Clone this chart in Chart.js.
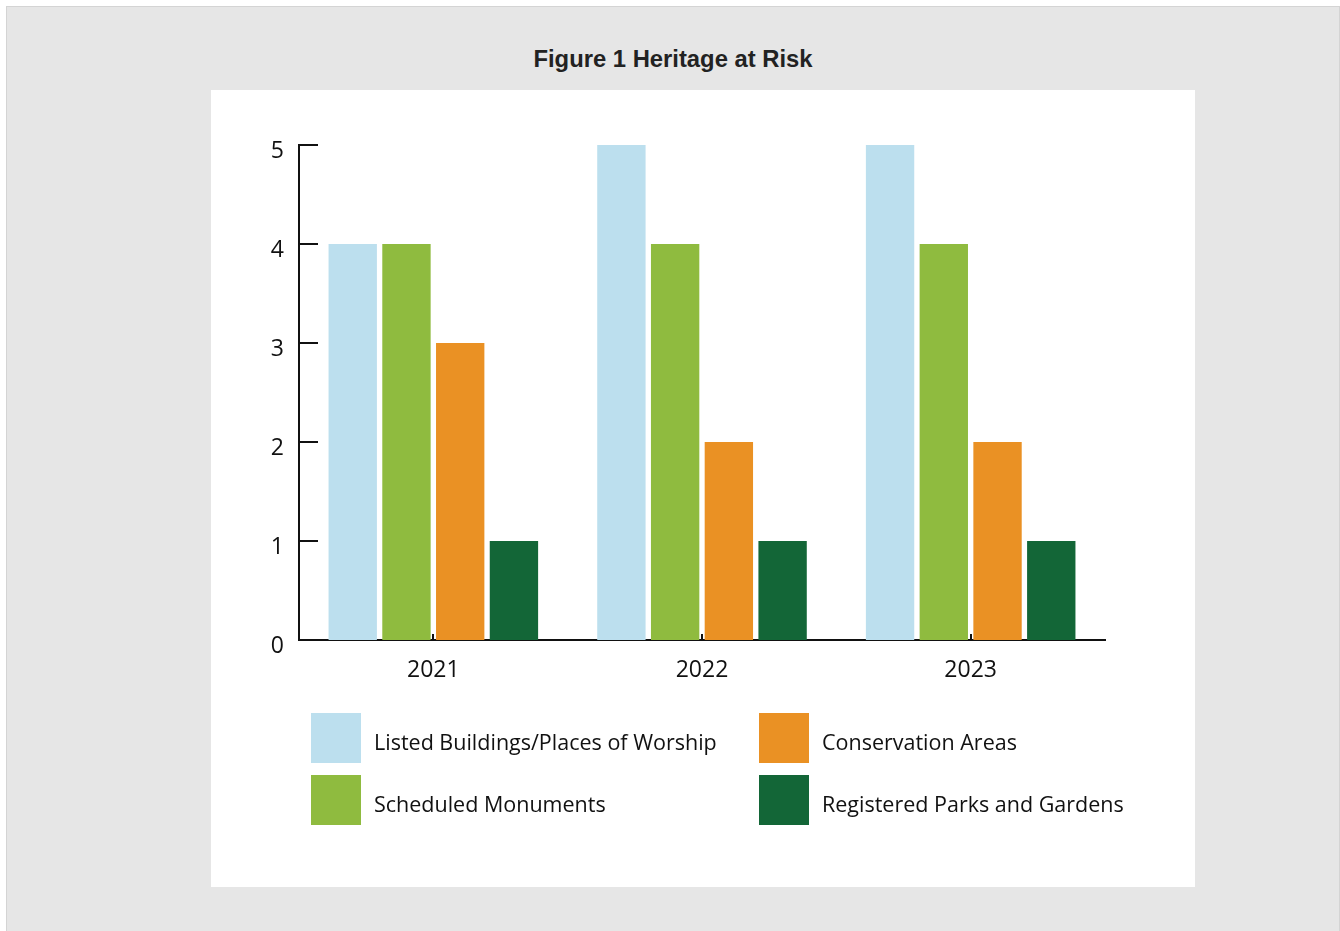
<!DOCTYPE html>
<html><head><meta charset="utf-8">
<script src="https://cdn.jsdelivr.net/npm/chart.js@4.4.1/dist/chart.umd.min.js"></script>
<style>
html,body{margin:0;padding:0;background:#fff;}
#outer{position:absolute;left:6px;top:6px;width:1332px;height:940px;background:#e6e6e6;border:1px solid #d4d4d4;}
#title{position:absolute;left:0;top:38px;width:1332px;text-align:center;font-family:"Liberation Sans",Arial,sans-serif;font-weight:bold;font-size:23.8px;color:#222;}
#panel{position:absolute;left:204px;top:83px;width:984px;height:797px;background:#fff;}
#cv{position:absolute;left:0;top:0;}
.lg{position:absolute;font-family:"Open Sans",sans-serif;font-size:21.5px;color:#111;white-space:nowrap;}
.sw{position:absolute;width:50px;height:50px;}
</style></head><body>
<div id="outer">
<div id="title">Figure 1 Heritage at Risk</div>
<div id="panel"><canvas id="cv" width="984" height="797"></canvas><div id="legend"></div></div>
</div>
<script>
const categories = ["2021", "2022", "2023"];
const seriesNames = ["Listed Buildings/Places of Worship", "Scheduled Monuments", "Conservation Areas", "Registered Parks and Gardens"];
const listedBuildings = [4, 5, 5];
const scheduledMonuments = [4, 4, 4];
const conservationAreas = [3, 2, 2];
const parksGardens = [1, 1, 1];
const yTicks = [0, 1, 2, 3, 4, 5];
const colors = ["#bcdfee", "#8fbb3f", "#ea9124", "#136637"];

const seriesValues = [listedBuildings, scheduledMonuments, conservationAreas, parksGardens];

const tickPlugin = {
  id: 'innerTicks',
  afterDatasetsDraw(chart) {
    const ctx = chart.ctx, a = chart.chartArea;
    const ys = chart.scales.y, xs = chart.scales.x;
    ctx.save();
    ctx.strokeStyle = '#111';
    ctx.lineWidth = 2;
    ys.ticks.forEach((t, i) => {
      if (i === 0) return;
      const y = Math.round(ys.getPixelForTick(i));
      ctx.beginPath(); ctx.moveTo(a.left, y); ctx.lineTo(a.left + 19, y); ctx.stroke();
    });
    xs.ticks.forEach((t, i) => {
      const x = Math.round(xs.getPixelForTick(i));
      ctx.beginPath(); ctx.moveTo(x, a.bottom); ctx.lineTo(x, a.bottom - 6); ctx.stroke();
    });
    ctx.restore();
  }
};

new Chart(document.getElementById('cv'), {
  type: 'bar',
  data: {
    labels: categories,
    datasets: seriesNames.map((n, i) => ({
      label: n, data: seriesValues[i], backgroundColor: colors[i],
      barPercentage: 0.9, categoryPercentage: 0.8, borderWidth: 0
    }))
  },
  options: {
    responsive: false, animation: false,
    layout: { padding: { left: 0, right: 90, top: 55, bottom: 197 } },
    plugins: { legend: { display: false }, tooltip: { enabled: false } },
    scales: {
      x: {
        grid: { display: false },
        border: { display: true, color: '#111', width: 2 },
        ticks: { color: '#111', font: { family: 'Open Sans', size: 23 }, padding: 9 },
        afterFit: s => { s.height = 50; }
      },
      y: {
        min: 0, max: 5,
        afterBuildTicks: s => { s.ticks = yTicks.map(v => ({ value: v })); },
        grid: { display: false },
        border: { display: true, color: '#111', width: 2 },
        ticks: { color: '#111', font: { family: 'Open Sans', size: 23 }, padding: 7, labelOffset: 6 },
        afterFit: s => { s.width = 88; }
      }
    }
  },
  plugins: [tickPlugin]
});

const lg = document.getElementById('legend');
const pos = [[100, 623], [100, 685], [548, 623], [548, 685]];
seriesNames.forEach((n, i) => {
  const sw = document.createElement('div');
  sw.className = 'sw'; sw.style.left = pos[i][0] + 'px'; sw.style.top = pos[i][1] + 'px';
  sw.style.background = colors[i];
  lg.appendChild(sw);
  const t = document.createElement('div');
  t.className = 'lg'; t.textContent = n;
  t.style.left = (pos[i][0] + 63) + 'px'; t.style.top = (pos[i][1] + 14) + 'px';
  lg.appendChild(t);
});
</script>
</body></html>
